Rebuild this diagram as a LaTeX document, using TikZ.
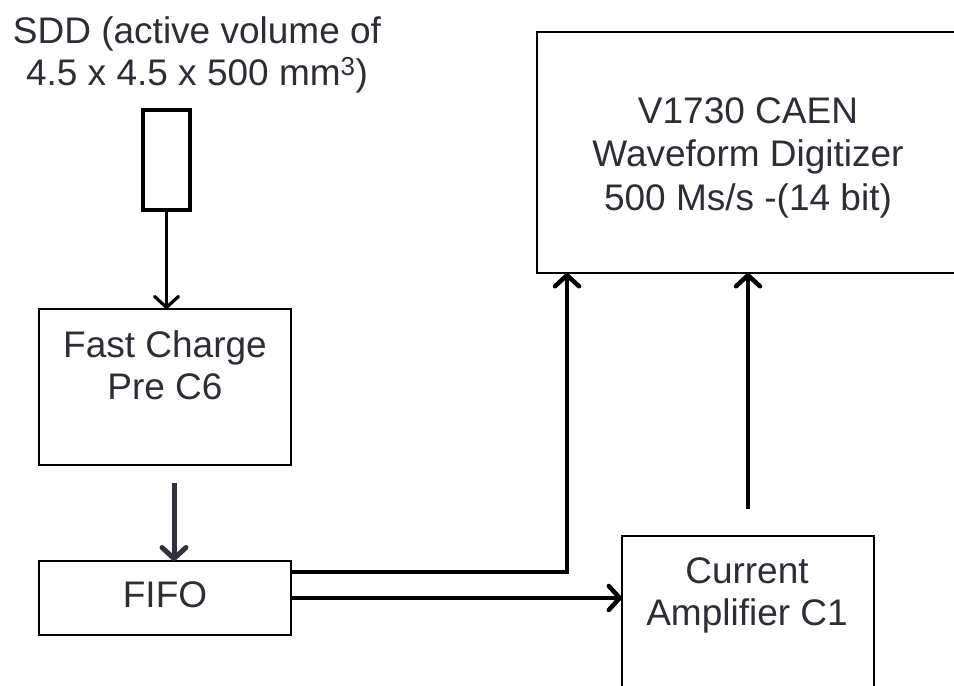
\documentclass[tikz,border=0pt]{standalone}
\usepackage{fontspec}
\setmainfont{Liberation Sans}
\usetikzlibrary{arrows.meta,calc}
\definecolor{txt}{RGB}{45,45,56}
\definecolor{darkarrow}{RGB}{50,50,62}
\begin{document}
\begin{tikzpicture}[x=1pt,y=-1pt,
  blk/.style={draw=black,line width=2pt,rectangle,inner sep=0pt,outer sep=0pt,fill=white},
  lbl/.style={anchor=base,text=txt,inner sep=0pt,font=\fontsize{37}{45}\selectfont},
  barb/.style={-{Straight Barb[length=11pt,width=24pt,line cap=round,line join=round]}},
  wire/.style={line width=4.5pt,line cap=butt,line join=miter}
]
\clip (0,0) rectangle (954,686);
\fill[white] (0,0) rectangle (954,686);

% boxes
\node[blk,line width=4.5pt,minimum width=47pt,minimum height=100pt] (sdd) at (166.5,160) {};
\node[blk,minimum width=252pt,minimum height=156pt] (fc) at (165,387) {};
\node[blk,minimum width=252pt,minimum height=74pt] (fifo) at (165,598) {};
\node[blk,minimum width=252pt,minimum height=190pt] (amp) at (748,631) {};
\node[blk,minimum width=430pt,minimum height=241pt] (dig) at (752,152.5) {};

% texts
\node[lbl] (t1) at (197,43) {SDD (active volume of};
\node[lbl] (t2) at (197,85) {4.5 x 4.5 x 500 mm\textsuperscript{3})};
\node[lbl] (d1) at (748,123) {V1730 CAEN};
\node[lbl] (d2) at (748,166) {Waveform Digitizer};
\node[lbl] (d3) at (748,210) {500 Ms/s -(14 bit)};
\node[lbl] (f1) at (165,357) {Fast Charge};
\node[lbl] (f2) at (165,399) {Pre C6};
\node[lbl] (ff) at (165,607) {FIFO};
\node[lbl] (a1) at (747,583) {Current};
\node[lbl] (a2) at (747,625) {Amplifier C1};

% connectors
\draw[barb,line width=3.2pt] (sdd.south) -- (sdd.south |- fc.north);
\draw[barb,line width=5pt,darkarrow] (174,483) coordinate (gs) -- (gs |- fifo.north);
\coordinate (upout) at ([yshift=26pt]fifo.east);
\coordinate (inx) at (567,273);
\draw[wire,barb] (upout) -| (inx |- dig.south);
\draw[wire,barb] (fifo.east) -- (fifo.east -| amp.west);
\draw[wire,barb] ([yshift=27pt]amp.north) -- (amp.north |- dig.south);
\end{tikzpicture}
\end{document}
